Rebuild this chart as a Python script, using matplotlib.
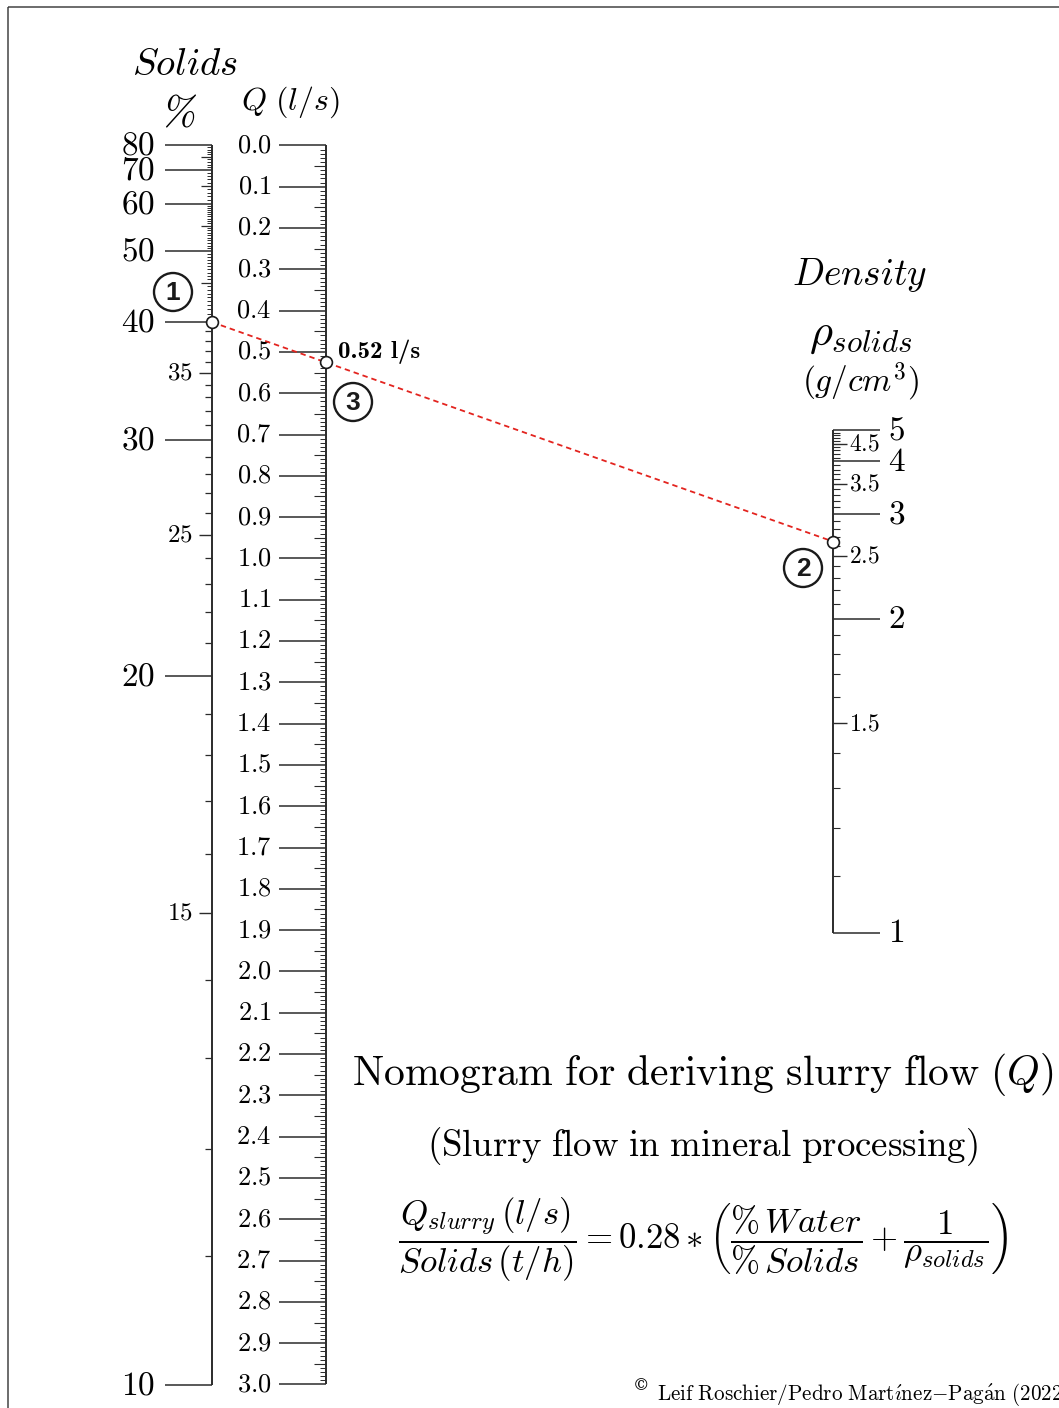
"""
Nomogram for deriving slurry flow (Q) from % solids and solids density.
"""

import numpy as np
import matplotlib.pyplot as plt
from matplotlib.patches import Circle, Rectangle, PathPatch
from matplotlib.textpath import TextPath
from matplotlib.transforms import Affine2D

plt.rcParams["mathtext.fontset"] = "cm"

# Scale graduations
solids_major = [80, 70, 60, 50, 40, 30, 20, 10]
solids_mid = [35, 25, 15]
solids_minor_mid = [75, 65, 55, 45]
flow_labels = np.round(np.arange(0, 3.01, 0.1), 1)
density_major = [1, 2, 3, 4, 5]
density_mid = [1.5, 2.5, 3.5, 4.5]

# Worked example
example_solids = 40
example_density = 2.65
K = 0.28  # Q/Solids = K * (%water/%solids + 1/rho)

# Layout of the three parallel scales (figure pixels, y pointing down)
W, H = 1059, 1408
SOL_X, DEN_X = 212, 833
SOL_TOP, SOL_BOT = 145, 1385
DEN_TOP, DEN_BOT = 430, 933
INK = "#2b2b2b"


def u_sol(s):
    return 100.0 / np.asarray(s, dtype=float) - 1.0


M_SOL = (SOL_BOT - SOL_TOP) / (u_sol(10) - u_sol(80))
M_DEN = (DEN_BOT - DEN_TOP) / (1 - 1 / 5)


def y_sol(s):
    return SOL_TOP + M_SOL * (u_sol(s) - u_sol(80))


def y_den(r):
    return DEN_BOT - M_DEN * (1 - 1 / np.asarray(r, dtype=float))


# middle scale position follows from the two outer ones
t = M_SOL / (M_SOL + M_DEN)
Q_X = SOL_X + t * (DEN_X - SOL_X)
M_Q = (1 - t) * M_SOL


def y_q(q):
    base = (1 - t) * (SOL_TOP - M_SOL * u_sol(80)) + t * (DEN_BOT - M_DEN)
    return base + M_Q * np.asarray(q, dtype=float) / K


fig = plt.figure(figsize=(W / 100, H / 100), dpi=100)
ax = fig.add_axes([0, 0, 1, 1])
ax.set_xlim(0, W)
ax.set_ylim(H, 0)
ax.axis("off")

# outer frame (cropped on right/bottom)
ax.add_patch(Rectangle((8, 7), W + 50, H + 50, fill=False, ec="#444444", lw=1.1))

# ---- Solids % scale ----
ax.vlines(SOL_X, SOL_TOP, SOL_BOT, color=INK, lw=1.4)
minor = np.concatenate([np.arange(80, 60, -1), np.arange(60, 40, -0.5), np.arange(40, 10, -1)])
minor = [m for m in minor if m not in solids_major + solids_mid + solids_minor_mid]
short = [m for m in minor if m > 40]
longer = [m for m in minor if m < 40]
ax.hlines(y_sol(short), SOL_X - 5, SOL_X, color=INK, lw=0.7)
ax.hlines(y_sol(longer), SOL_X - 7, SOL_X, color=INK, lw=0.9)
ax.hlines(y_sol(solids_minor_mid), SOL_X - 11, SOL_X, color=INK, lw=0.9)
ax.hlines(y_sol(solids_mid), SOL_X - 13, SOL_X, color=INK, lw=1.0)
ax.hlines(y_sol(solids_major), SOL_X - 47, SOL_X, color=INK, lw=1.1)
for s in solids_major:
    ax.text(SOL_X - 57, y_sol(s), f"${s}$", ha="right", va="center", fontsize=24)
for s in solids_mid:
    ax.text(SOL_X - 19, y_sol(s), f"${s}$", ha="right", va="center", fontsize=18)

# ---- Q scale ----
ax.vlines(Q_X, y_q(0), y_q(3), color=INK, lw=1.4)
q_minor = np.round(np.arange(0, 3.001, 0.01), 2)
q_small = [q for q in q_minor if round(q * 100) % 5 != 0]
q_mid = [q for q in q_minor if round(q * 100) % 5 == 0 and round(q * 100) % 10 != 0]
ax.hlines(y_q(q_small), Q_X - 6, Q_X, color=INK, lw=0.7)
ax.hlines(y_q(q_mid), Q_X - 12, Q_X, color=INK, lw=0.8)
ax.hlines(y_q(flow_labels), Q_X - 47, Q_X, color=INK, lw=1.1)
for q in flow_labels:
    ax.text(Q_X - 55, y_q(q), f"${q:.1f}$", ha="right", va="center", fontsize=19)

# ---- Density scale ----
ax.vlines(DEN_X, DEN_TOP, DEN_BOT, color=INK, lw=1.4)
d_minor = np.round(np.arange(1, 5.001, 0.1), 1)
d_minor = [d for d in d_minor if d not in density_major + density_mid]
ax.hlines(y_den(d_minor), DEN_X, DEN_X + 7, color=INK, lw=0.8)
ax.hlines(y_den(density_mid), DEN_X, DEN_X + 14, color=INK, lw=1.0)
ax.hlines(y_den(density_major), DEN_X, DEN_X + 47, color=INK, lw=1.1)
for d in density_major:
    ax.text(DEN_X + 55, y_den(d), f"${d}$", ha="left", va="center", fontsize=24)
for d in density_mid:
    ax.text(DEN_X + 16, y_den(d), f"${d}$", ha="left", va="center", fontsize=17)

# ---- scale headings ----
ax.text(SOL_X - 27, 64, r"$Solids$", ha="center", va="center", fontsize=28)
# slanted percent sign (no italic % in the bundled CM fonts)
pct = TextPath((0, 0), r"$\%$", size=41)
bb = pct.get_extents()
pct_tr = (Affine2D().translate(-(bb.x0 + bb.x1) / 2, -(bb.y0 + bb.y1) / 2)
          .skew_deg(13, 0).scale(1, -1).translate(SOL_X - 31, 111))
ax.add_patch(PathPatch(pct_tr.transform_path(pct), fc="black", lw=0))
ax.text(Q_X - 36, 102, r"$Q\ (l/s)$", ha="center", va="center", fontsize=23)
ax.text(DEN_X + 27, 275, r"$Density$", ha="center", va="center", fontsize=27)
ax.text(DEN_X + 28, 335, r"$\rho_{solids}$", ha="center", va="center", fontsize=32)
ax.text(DEN_X + 27, 382, r"$(g/cm^{3})$", ha="center", va="center", fontsize=24)

# ---- worked example ----
q_example = K * (u_sol(example_solids) + 1 / example_density)
p1 = (SOL_X, y_sol(example_solids))
p2 = (DEN_X, y_den(example_density))
p3 = (Q_X, y_q(q_example))
ax.plot([p1[0], p2[0]], [p1[1], p2[1]], color="#e3241f", lw=1.3, ls=(0, (3, 2.2)), zorder=3)
ax.plot([p1[0], p3[0], p2[0]], [p1[1], p3[1], p2[1]], ls="none", marker="o",
        ms=8.5, mfc="white", mec="#1a1a1a", mew=1.2, zorder=4)
q_txt = np.floor(q_example * 100) / 100
ax.text(Q_X + 12, p3[1] - 11, f"{q_txt:.2f} l/s", ha="left", va="center", fontsize=18,
        family=["cmb10", "DejaVu Serif"], fontweight="bold")

for num, (cx, cy) in zip(["1", "3", "2"], [(173, 292), (353, 402), (803, 568)]):
    ax.add_patch(Circle((cx, cy), 19, fill=False, ec="#1a1a1a", lw=1.7))
    ax.text(cx, cy + 1, num, ha="center", va="center", fontsize=19,
            fontweight="bold", family="Liberation Sans", color="#1a1a1a")

# ---- title block ----
ax.text(703, 1075, r"$\mathrm{Nomogram\ for\ deriving\ slurry\ flow}\ (Q)$",
        ha="center", va="center", fontsize=30)
ax.text(702, 1147, r"$\mathrm{(Slurry\ flow\ in\ mineral\ processing)}$",
        ha="center", va="center", fontsize=26.5)
ax.text(703, 1240,
        r"$\dfrac{Q_{slurry}\,(l/s)}{Solids\,(t/h)} = 0.28\ast\left(\dfrac{\%\,Water}{\%\,Solids}"
        r" + \dfrac{1}{\rho_{solids}}\right)$",
        ha="center", va="center", fontsize=25)
ax.text(641, 1386, "\u00a9", ha="center", va="center", fontsize=12, family="DejaVu Serif")
ax.text(657, 1395, r"$\mathrm{Leif\ Roschier/Pedro\ Mart\acute{\imath}nez{-}Pag\acute{a}n\ (2022)}$",
        ha="left", va="center", fontsize=15.2)

fig.savefig("out.png", dpi=100)
